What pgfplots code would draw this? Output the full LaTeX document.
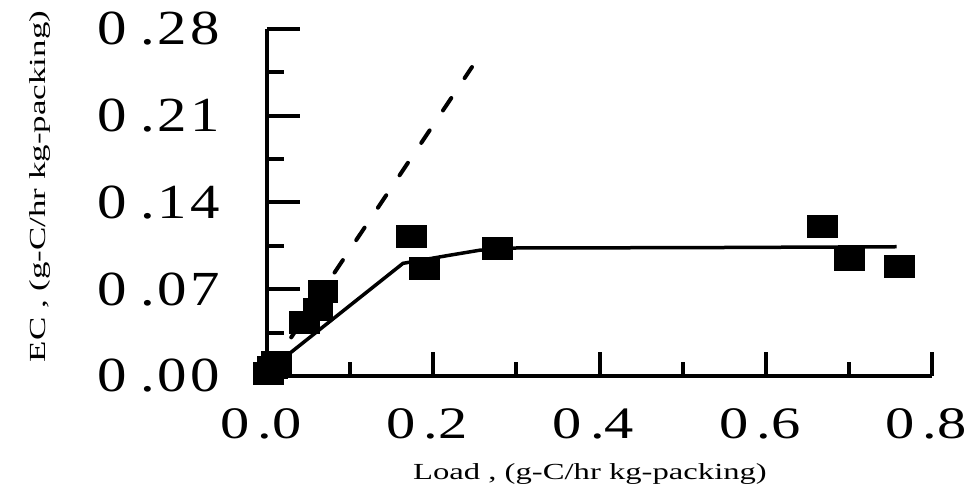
\documentclass[border=0pt]{standalone}
\usepackage{fontspec}
\setmainfont{Liberation Serif}
\newfontfamily\yfont[FakeStretch=1.2]{Liberation Serif}
\newfontfamily\xfont[FakeStretch=1.3]{Liberation Serif}
\newfontfamily\lfont[FakeStretch=1.42]{Liberation Serif}
\newfontfamily\ylfont[FakeStretch=1.52]{Liberation Serif}
\usepackage{pgfplots}
\pgfplotsset{compat=1.18}
\newcommand\ylab[3]{#1\kern13bp.\kern3bp#2\kern3bp#3}
\newcommand\xlab[2]{#1\kern8bp.\kern0bp#2}
\begin{document}
\begin{tikzpicture}
\useasboundingbox (-267bp,-110bp) rectangle (698bp,376bp);
\begin{axis}[
  at={(0,0)}, anchor=origin,
  scale only axis, width=665bp, height=347bp,
  xmin=0, xmax=0.8, ymin=0, ymax=0.28,
  axis lines=left, axis line style={-, line width=4bp},
  clip=false,
  tick align=inside,
  major tick length=33bp, minor tick length=17bp,
  tick style={line width=4bp, black},
  xtick={0,0.2,0.4,0.6,0.8},
  xticklabels={\xlab{0}{0},\xlab{0}{2},\xlab{0}{4},\xlab{0}{6},\xlab{0}{8}},
  minor x tick num=1,
  x tick style={draw=none},
  ytick={0,0.07,0.14,0.21,0.28},
  yticklabels={\ylab{0}{0}{0},\ylab{0}{0}{7},\ylab{0}{1}{4},\ylab{0}{2}{1},\ylab{0}{2}{8}},
  minor y tick num=1,
  yticklabel style={anchor=east, inner sep=0pt, xshift=-47bp, font=\fontsize{49bp}{55bp}\yfont},
  xticklabel style={anchor=north, inner sep=0pt, yshift=-32bp, xshift=-6bp, font=\fontsize{45bp}{50bp}\xfont},
  xlabel={Load , (g-C/hr kg-packing)},
  xlabel style={at={(axis description cs:0.4857,-0.2997)}, anchor=base, inner sep=0pt, font=\fontsize{23bp}{27bp}\lfont},
  ylabel={EC , (g-C/hr kg-packing)},
  ylabel style={at={(axis description cs:-0.3338,0.5461)}, anchor=base, inner sep=0pt, font=\fontsize{23bp}{27bp}\ylfont},
]
\addplot[black, line width=3.5bp] coordinates {
(0.005,0.0064) (0.1636,0.0909) (0.19,0.0940) (0.22,0.0975) (0.256,0.1015) (0.30,0.1033) (0.52,0.1036) (0.7575,0.1043)
};
\addplot[black, line width=4bp, dash pattern=on 15bp off 24bp, line cap=round] coordinates {
(0.003,0.005) (0.2466,0.2493)
};
\addplot[only marks, mark=square*, mark size=11bp, mark options={xscale=1.36, fill=black, draw=none}] coordinates {
(0.001,0.002) (0.006,0.007) (0.011,0.011)
(0.0445,0.0436) (0.061,0.054) (0.067,0.0686)
(0.174,0.113) (0.189,0.087) (0.277,0.103)
(0.668,0.121) (0.700,0.094) (0.760,0.089)
};
\end{axis}
\begin{axis}[
  at={(0,0)}, anchor=origin,
  scale only axis, width=665bp, height=347bp,
  xmin=0, xmax=0.8, ymin=0, ymax=0.28,
  axis x line=bottom, axis y line=none,
  axis line style={-, line width=4bp},
  tick align=inside,
  major tick length=24bp, minor tick length=14bp,
  tick style={line width=4bp, black},
  xtick={0,0.2,0.4,0.6,0.8}, xticklabels=\empty,
  minor x tick num=1,
  ytick=\empty,
]
\end{axis}
\end{tikzpicture}
\end{document}
